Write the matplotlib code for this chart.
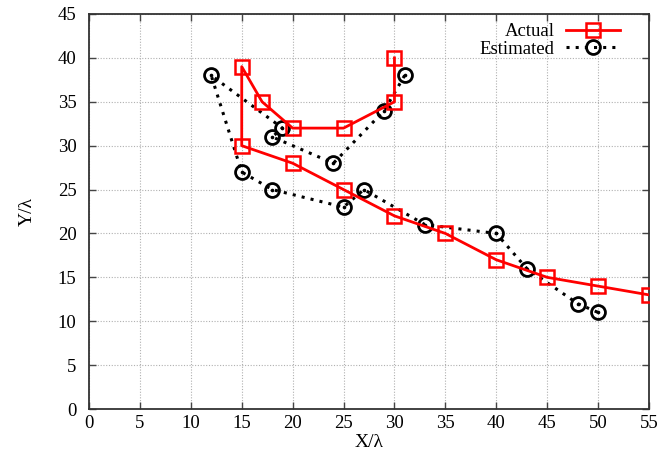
import numpy as np
import matplotlib
matplotlib.use("Agg")
import matplotlib.pyplot as plt

# path values (units of wavelength)
actualX = [30, 30, 25, 20, 17, 15, 15, 20, 25, 30, 35, 40, 45, 50, 55]
actualY = [40, 35, 32, 32, 35, 39, 30, 28, 25, 22, 20, 17, 15, 14, 13]

estimatedX = [31, 29, 24, 18, 19, 12, 15, 18, 25, 27, 33, 40, 43, 48, 50]
estimatedY = [38, 34, 28, 31, 32, 38, 27, 25, 23, 25, 21, 20, 16, 12, 11]

xTicks = np.arange(0, 56, 5)
yTicks = np.arange(0, 46, 5)

plt.rcParams['font.family'] = ['Liberation Serif', 'DejaVu Serif']

fig = plt.figure(figsize=(6.62, 4.66), dpi=100)
ax = fig.add_axes([89 / 662, 1 - 409 / 466, 560 / 662, 395 / 466])

ax.plot(actualX, actualY, color="red", linewidth=2, marker="s", markersize=10,
        markerfacecolor="none", markeredgecolor="red", markeredgewidth=1.8,
        label="Actual", zorder=3)
ax.plot(estimatedX, estimatedY, color="black", linewidth=2.2, linestyle=(0, (1, 2.0)),
        marker="o", markersize=10, markerfacecolor="none", markeredgecolor="black",
        markeredgewidth=2, label="Estimated", zorder=2)
# gnuplot style point in the middle of each circle
ax.plot(estimatedX, estimatedY, linestyle="none", marker="o", markersize=1.6,
        color="black", zorder=2)

ax.set_xlim(0, 55)
ax.set_ylim(0, 45)
ax.set_xticks(xTicks)
ax.set_yticks(yTicks)
ax.tick_params(direction="in", top=True, right=True, length=5, width=1,
               labelsize=13.5, color="#444444")
ax.tick_params(axis="x", pad=4)
ax.tick_params(axis="y", pad=9)
ax.grid(True, linestyle=(0, (1, 1.5)), color="#b0b0b0", linewidth=0.8)
for spine in ax.spines.values():
    spine.set_linewidth(1.3)
    spine.set_color("#333333")

ax.set_xlabel("X/λ", fontsize=14, labelpad=2)
ax.set_ylabel("Y/λ", fontsize=14, labelpad=16)

ax.legend(loc="upper right", bbox_to_anchor=(0.965, 1.0), frameon=False,
          markerfirst=False, fontsize=13.5, handlelength=2.9, borderaxespad=0.1,
          labelspacing=0.0, handletextpad=0.6)

fig.savefig("out.png", dpi=100)
